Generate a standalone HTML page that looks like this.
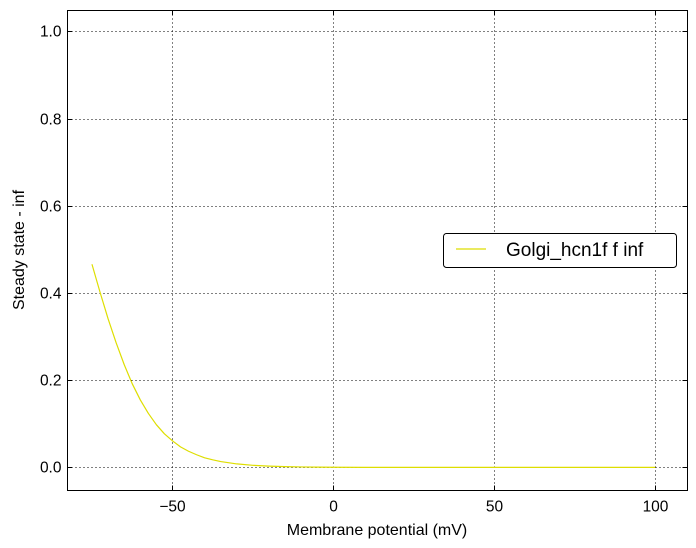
<!DOCTYPE html>
<html><head><meta charset="utf-8"><style>
body{margin:0;background:#fff;}
svg{display:block;font-family:"Liberation Sans",sans-serif;}
</style></head><body>
<svg id="chart" width="696" height="548">
<rect width="696" height="548" fill="#fff"/>
<g id="grid"></g>
<g id="series"></g>
<rect x="67.5" y="10.5" width="620" height="480" fill="none" stroke="#000" stroke-width="1"/>
<g id="ticks"></g>
<text x="377" y="535" font-size="16" text-anchor="middle">Membrane potential (mV)</text>
<text x="24" y="250" font-size="16" text-anchor="middle" transform="rotate(-90 24 250)">Steady state - inf</text>
<g>
<rect x="443.5" y="233.5" width="233" height="34" rx="3" fill="#fff" stroke="#000" stroke-width="1"/>
<line x1="456" y1="249" x2="486" y2="249" stroke="#dede00" stroke-width="1.2"/>
<text x="506" y="256" font-size="19">Golgi_hcn1f f inf</text>
</g>
</svg>
<script>
const voltages=[-75,-72.5,-70,-67.5,-65,-62.5,-60,-57.5,-55,-52.5,-50,-47.5,-45,-42.5,-40,-37.5,-35,-30,-25,-20,-15,-10,-5,0,10,20,30,40,50,60,70,80,90,100];
const infValues=[0.466,0.402,0.341,0.286,0.236,0.192,0.155,0.124,0.098,0.077,0.061,0.047,0.037,0.029,0.022,0.0173,0.0134,0.008,0.0048,0.0029,0.0017,0.001,0.0006,0.0004,0.0001,0,0,0,0,0,0,0,0,0];
const xTicks=[-50,0,50,100];
const yTicks=[0.0,0.2,0.4,0.6,0.8,1.0];
const xMin=-82.6,xMax=110,yMin=-0.053,yMax=1.048;
const L=67.5,R=687.5,T=10.5,B=490.5;
function sx(v){return L+(v-xMin)/(xMax-xMin)*(R-L);}
function sy(v){return B-(v-yMin)/(yMax-yMin)*(B-T);}
const NS="http://www.w3.org/2000/svg";
function mk(tag,attrs,parent){const e=document.createElementNS(NS,tag);for(const k in attrs)e.setAttribute(k,attrs[k]);parent.appendChild(e);return e;}
const grid=document.getElementById('grid'),ticks=document.getElementById('ticks'),series=document.getElementById('series');
xTicks.forEach(t=>{const x=Math.round(sx(t))+0.5;
 const g=mk('line',{x1:x,x2:x,y1:T,y2:B,stroke:'#000','stroke-dasharray':'1,3','stroke-width':1},grid);
 
 
 const a=mk('line',{x1:x,x2:x,y1:B,y2:B-5,stroke:'#000'},ticks);
 
 
 mk('line',{x1:x,x2:x,y1:T,y2:T+5,stroke:'#000'},ticks);
 const lb=mk('text',{x:x,y:B+21,'font-size':15.5,'text-anchor':'middle'},ticks);
 lb.textContent=(t<0?'\u2212'+(-t):t);
 
 
});
yTicks.forEach(t=>{const y=Math.round(sy(t))+0.5;
 const g=mk('line',{x1:L,x2:R,y1:y,y2:y,stroke:'#000','stroke-dasharray':'1,3','stroke-width':1},grid);
 
 
 const a=mk('line',{x1:L,x2:L+5,y1:y,y2:y,stroke:'#000'},ticks);
 
 
 mk('line',{x1:R,x2:R-5,y1:y,y2:y,stroke:'#000'},ticks);
 const lb=mk('text',{x:L-6,y:y+5,'font-size':15.5,'text-anchor':'end'},ticks);
 lb.textContent=t.toFixed(1);
 
 
});
const pts=voltages.map((v,i)=>sx(v).toFixed(2)+','+sy(infValues[i]).toFixed(2)).join(' ');
const pl=mk('polyline',{points:pts,fill:'none',stroke:'#dede00','stroke-width':1.2,'stroke-linejoin':'round'},series);


</script>
</body></html>
